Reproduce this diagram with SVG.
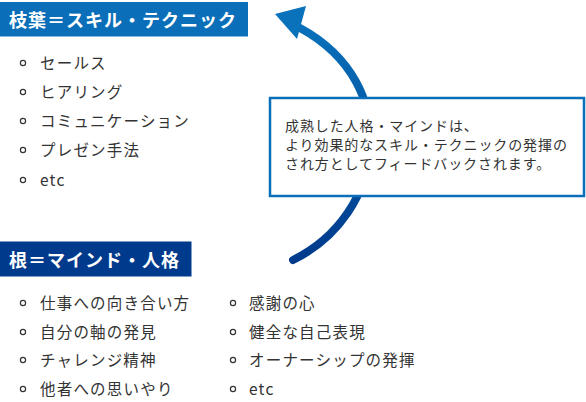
<svg xmlns="http://www.w3.org/2000/svg" width="586" height="402" viewBox="0 0 586 402">
<defs>
<style>
.hd{font-family:"Noto Sans CJK JP","Noto Sans",sans-serif;font-weight:bold;font-size:18px;fill:#fff;letter-spacing:1px}
.li{font-family:"Noto Sans CJK JP","Noto Sans",sans-serif;font-size:15.5px;fill:#333;letter-spacing:1.2px}
.bx{font-family:"Noto Sans CJK JP","Noto Sans",sans-serif;font-size:14px;fill:#333;letter-spacing:0.9px}
.bu{fill:none;stroke:#333;stroke-width:1.2}
</style>
<linearGradient id="ag2" gradientUnits="userSpaceOnUse" x1="0" y1="262" x2="0" y2="10">
<stop offset="0" stop-color="#003a8c"/>
<stop offset="1" stop-color="#0a74bd"/>
</linearGradient>
</defs>
<g id="connectors">
<path d="M293,260 C385,215 405,85 300,28" fill="none" stroke="url(#ag2)" stroke-width="8" stroke-linecap="round"/>
<polygon points="275,14 306,6 297,39" fill="#0a72bb"/>
</g>
<g id="skill">
<rect x="0" y="2" width="248" height="34.5" fill="#0a6fb8"/>
<text class="hd" x="9" y="26.5">枝葉＝スキル・テクニック</text>
</g>
<g id="skill-list">
<circle class="bu" cx="23" cy="63" r="2.6"/><text class="li" x="40" y="68.5">セールス</text>
<circle class="bu" cx="23" cy="92" r="2.6"/><text class="li" x="40" y="97.5">ヒアリング</text>
<circle class="bu" cx="23" cy="121" r="2.6"/><text class="li" x="40" y="126.5">コミュニケーション</text>
<circle class="bu" cx="23" cy="150" r="2.6"/><text class="li" x="40" y="155.5">プレゼン手法</text>
<circle class="bu" cx="23" cy="180" r="2.6"/><text class="li" x="40" y="185.5">etc</text>
</g>
<g id="note">
<rect x="270" y="98" width="314" height="98" fill="#fff" stroke="#0a6fb8" stroke-width="2.5"/>
<text class="bx" x="285" y="131">成熟した人格・マインドは、</text>
<text class="bx" x="285" y="150">より効果的なスキル・テクニックの発揮の</text>
<text class="bx" x="285" y="169">され方としてフィードバックされます。</text>
</g>
<g id="mind">
<rect x="0" y="241.5" width="191.5" height="35" fill="#003a8c"/>
<text class="hd" x="9" y="266.5">根＝マインド・人格</text>
</g>
<g id="mind-list">
<circle class="bu" cx="23" cy="303" r="2.6"/><text class="li" x="40" y="308.5">仕事への向き合い方</text>
<circle class="bu" cx="23" cy="332" r="2.6"/><text class="li" x="40" y="337.5">自分の軸の発見</text>
<circle class="bu" cx="23" cy="360" r="2.6"/><text class="li" x="40" y="365.5">チャレンジ精神</text>
<circle class="bu" cx="23" cy="389" r="2.6"/><text class="li" x="40" y="394.5">他者への思いやり</text>
<circle class="bu" cx="233" cy="303" r="2.6"/><text class="li" x="249" y="308.5">感謝の心</text>
<circle class="bu" cx="233" cy="332" r="2.6"/><text class="li" x="249" y="337.5">健全な自己表現</text>
<circle class="bu" cx="233" cy="360" r="2.6"/><text class="li" x="249" y="365.5">オーナーシップの発揮</text>
<circle class="bu" cx="233" cy="389" r="2.6"/><text class="li" x="249" y="394.5">etc</text>
</g>
</svg>
